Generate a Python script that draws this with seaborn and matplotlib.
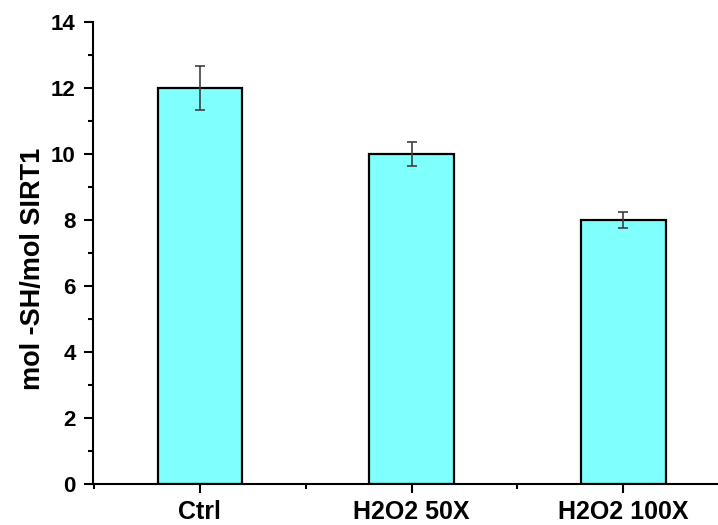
import matplotlib
matplotlib.use("Agg")
import matplotlib.pyplot as plt
from matplotlib.ticker import MultipleLocator, FixedLocator
import pandas as pd
import seaborn as sns

categories = ["Ctrl", "H2O2 50X", "H2O2 100X"]
values = [12.0, 10.0, 8.0]
errors = [0.67, 0.36, 0.25]
ylabel = "mol -SH/mol SIRT1"

sns.set_style("ticks")
plt.rcParams["font.family"] = ["Liberation Sans", "DejaVu Sans"]
plt.rcParams["font.weight"] = "bold"
plt.rcParams["text.color"] = "black"
plt.rcParams["axes.labelcolor"] = "black"
plt.rcParams["xtick.color"] = "black"
plt.rcParams["ytick.color"] = "black"

df = pd.DataFrame({"cond": categories, "val": values})

fig = plt.figure(figsize=(7.18, 5.25), dpi=100)
ax = fig.add_axes([0.1295, 0.078, 0.88, 0.88])

sns.barplot(data=df, x="cond", y="val", color="#80FFFF", saturation=1,
            edgecolor="black", linewidth=1.6, width=0.4, errorbar=None, ax=ax)
ax.errorbar(range(len(categories)), values, yerr=errors, fmt="none",
            ecolor="#404040", elinewidth=1.2, capsize=3.4, capthick=1.2, zorder=5)

ax.set_xlim(-0.505, 2.48)
ax.set_ylim(0, 14)
ax.yaxis.set_major_locator(MultipleLocator(2))
ax.yaxis.set_minor_locator(MultipleLocator(1))
ax.xaxis.set_minor_locator(FixedLocator([-0.5, 0.5, 1.5, 2.5]))

for side in ("top", "right"):
    ax.spines[side].set_visible(False)
for side in ("left", "bottom"):
    ax.spines[side].set_linewidth(1.5)
    ax.spines[side].set_color("black")

ax.tick_params(axis="both", which="major", direction="out", length=6.5, width=1.5,
               color="black")
ax.tick_params(axis="both", which="minor", direction="out", length=3.5, width=1.5,
               color="black")
ax.tick_params(axis="y", labelsize=16, pad=6)
ax.tick_params(axis="x", labelsize=18, pad=5)
for lab in ax.get_xticklabels() + ax.get_yticklabels():
    lab.set_fontweight("bold")

ax.set_xlabel("")
ax.set_ylabel(ylabel, fontsize=19.5, fontweight="bold")
ax.yaxis.set_label_coords(-0.074, 0.465)

fig.savefig("out.png", dpi=100)
